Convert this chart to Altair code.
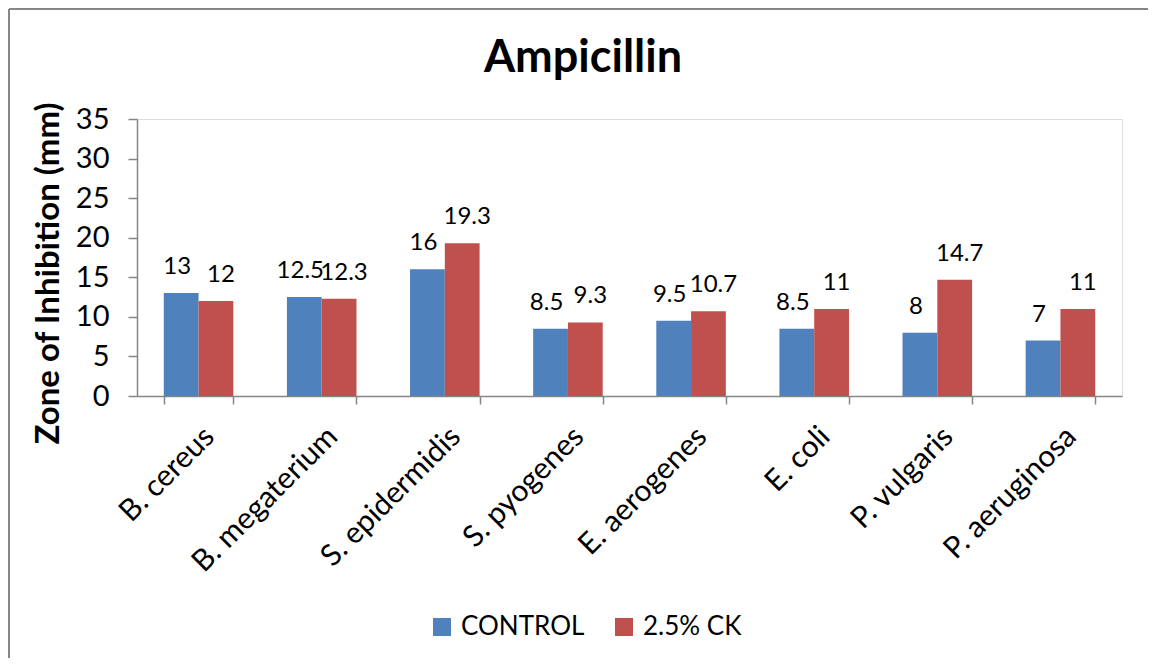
import altair as alt
import pandas as pd

categories = ["B. cereus", "B. megaterium", "S. epidermidis", "S. pyogenes",
              "E. aerogenes", "E. coli", "P. vulgaris", "P. aeruginosa"]
control = [13, 12.5, 16, 8.5, 9.5, 8.5, 8, 7]
ck = [12, 12.3, 19.3, 9.3, 10.7, 11, 14.7, 11]
series = ["CONTROL", "2.5% CK"]
colors = ["#4F81BD", "#C0504D"]
y_ticks = [0, 5, 10, 15, 20, 25, 30, 35]
chart_title = "Ampicillin"
y_title = "Zone of Inhibition (mm)"

rows = []
for c, a, b in zip(categories, control, ck):
    rows.append({"cat": c, "series": series[0], "value": a, "label": f"{a:g}"})
    rows.append({"cat": c, "series": series[1], "value": b, "label": f"{b:g}"})
df = pd.DataFrame(rows)

FONT = "Lato"
GRAY = "#868686"

x = alt.X("cat:N", sort=categories, title=None,
          scale=alt.Scale(paddingInner=0.435, paddingOuter=0.2175),
          axis=alt.Axis(labelAngle=-45, labelAlign="right", labelBaseline="top",
                        labelFontSize=30, labelColor="black", labelFont=FONT,
                        labelPadding=17, labelLimit=500, tickBand="extent", tickSize=8,
                        tickColor=GRAY, domainColor=GRAY, tickWidth=1.5,
                        domainWidth=1.5, labelOverlap=False))
xo = alt.XOffset("series:N", sort=series, scale=alt.Scale(paddingInner=0, paddingOuter=0))
y = alt.Y("value:Q", scale=alt.Scale(domain=[0, 35], nice=False),
          axis=alt.Axis(values=y_ticks, grid=False, tickSize=9, labelPadding=19,
                        labelFontSize=29, labelColor="black", labelFont=FONT,
                        labelOverlap=False, labelFlush=False,
                        tickColor=GRAY, domainColor=GRAY, tickWidth=1.5, domainWidth=1.5,
                        title=y_title, titleFont=FONT, titleY=154,
                        titleFontSize=33, titleFontWeight="bold", titleColor="black",
                        titlePadding=10))
color = alt.Color("series:N", sort=series,
                  scale=alt.Scale(domain=series, range=colors),
                  legend=alt.Legend(orient="none", legendX=292, legendY=495,
                                    direction="horizontal", title=None,
                                    symbolType="square", symbolSize=324,
                                    symbolStrokeWidth=0, labelFontSize=26,
                                    labelFont=FONT, labelColor="black",
                                    columnPadding=26, labelOffset=6, padding=0))

bars = alt.Chart(df).mark_bar().encode(x=x, xOffset=xo, y=y, color=color)

lab_ctrl = alt.Chart(df).transform_filter(alt.datum.series == series[0]).mark_text(
    fontSize=24, font=FONT, color="black", baseline="middle", dy=-26, dx=-4).encode(
    x=x, xOffset=xo, y=y, text="label:N")
lab_ck = alt.Chart(df).transform_filter(alt.datum.series == series[1]).mark_text(
    fontSize=24, font=FONT, color="black", baseline="middle", dy=-26, dx=5).encode(
    x=x, xOffset=xo, y=y, text="label:N")

one = pd.DataFrame({"k": [0]})
title_mark = alt.Chart(one).mark_text(fontSize=45, font=FONT, fontWeight="bold",
                                      color="black", baseline="alphabetic",
                                      align="center").encode(
    x=alt.value(446), y=alt.value(-47), text=alt.value(chart_title))
top_border = alt.Chart(one).mark_rule(color=GRAY, strokeWidth=2).encode(
    x=alt.value(-128), x2=alt.value(1030), y=alt.value(-110))
left_border = alt.Chart(one).mark_rule(color=GRAY, strokeWidth=2).encode(
    x=alt.value(-128), y=alt.value(-110), y2=alt.value(560))

chart = alt.layer(bars, lab_ctrl, lab_ck, title_mark, top_border, left_border).properties(
    width=985, height=277,
    autosize="none",
    padding={"left": 129, "top": 111, "right": 26, "bottom": 262},
).configure_view(stroke=None).configure(background="white")

chart.save("out.html", embed_options={"renderer": "svg", "actions": False})
